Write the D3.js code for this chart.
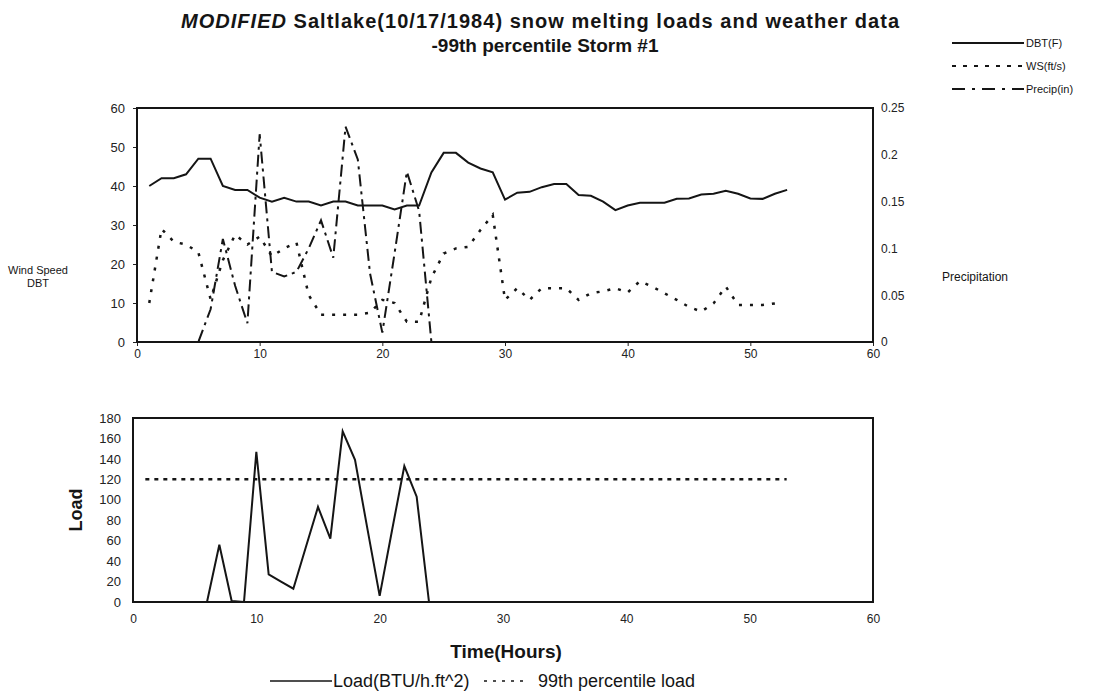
<!DOCTYPE html>
<html>
<head>
<meta charset="utf-8">
<script src="https://cdn.jsdelivr.net/npm/d3@7"></script>
<style>
  body { margin: 0; background: #fff; }
  svg { font-family: "Liberation Sans", Arial, sans-serif; }
  .axis path, .axis line { stroke: #222; }
  .axis text { fill: #222; }
</style>
</head>
<body>
<script>
const width = 1095,
      height = 698;

// hours 1..53
const hours = [1,2,3,4,5,6,7,8,9,10,11,12,13,14,15,16,17,18,19,20,21,22,23,24,25,26,27,28,29,30,
               31,32,33,34,35,36,37,38,39,40,41,42,43,44,45,46,47,48,49,50,51,52,53];

const dbt = [40,42,42,43,47,47,40,39,39,37,36,37,36,36,35,36,36,35,35,35,34,35,35,43.5,48.5,48.5,46,44.5,43.5,36.5,
             38.3,38.5,39.7,40.5,40.5,37.7,37.5,36,33.8,35,35.7,35.7,35.7,36.7,36.8,37.8,38,38.8,38,36.8,36.7,38,39];

const ws = [10,29,25.7,25,23,11,21,27.5,25,27,22,24,25.5,12,7,7,7,7,7.5,10.8,10,5.2,5.2,16.5,22.7,24,24.4,28.7,32.6,10.8,
            13.8,10.8,13.8,13.8,13.8,10.8,12.5,13,13.8,12.7,15.6,14.2,12.5,10.8,9,7.8,9.9,14.2,9.5,9.5,9.5,9.9];

const precip = [0,0,0,0,0,0.035,0.11,0.06,0.02,0.222,0.075,0.07,0.075,0.1,0.13,0.09,0.23,0.195,0.073,0.01,0.095,0.182,0.14,0,0,0,0,0,0,0,
                0,0,0,0,0,0,0,0,0,0,0,0,0,0,0,0,0,0,0,0,0,0,0];

const load = [0,0,0,0,0,0,56,1,0,147,27,20,13,53,93,62,167,139,72,6,70,133,103,0,0,0,0,0,0,0,
              0,0,0,0,0,0,0,0,0,0,0,0,0,0,0,0,0,0,0,0,0,0,0];

const load99 = [120,120,120,120,120,120,120,120,120,120,120,120,120,120,120,120,120,120,120,120,120,120,120,120,120,120,120,120,120,120,
                120,120,120,120,120,120,120,120,120,120,120,120,120,120,120,120,120,120,120,120,120,120,120];

const xTicks = [0,10,20,30,40,50,60];
const leftTicks = [0,10,20,30,40,50,60];
const rightTicks = [0,0.05,0.1,0.15,0.2,0.25];
const loadTicks = [0,20,40,60,80,100,120,140,160,180];

const ink = "#151515";

let svg = d3.select("body")
    .append("svg")
    .attr("width", width)
    .attr("height", height);

svg.append("rect").attr("width", width).attr("height", height).attr("fill", "#fff");

// titles
let title = svg.append("text")
    .attr("x", 540)
    .attr("y", 28)
    .attr("text-anchor", "middle")
    .attr("textLength", 718)
    .attr("lengthAdjust", "spacing")
    .style("font-size", "20px")
    .style("font-weight", "bold")
    .attr("fill", ink);
title.append("tspan").style("font-style", "italic").text("MODIFIED");
title.append("tspan").text("  Saltlake(10/17/1984) snow melting loads and weather data");

svg.append("text")
    .attr("x", 545)
    .attr("y", 52)
    .attr("text-anchor", "middle")
    .style("font-size", "19px")
    .style("font-weight", "bold")
    .attr("fill", ink)
    .text("-99th percentile Storm #1");

// ---- top chart
let x1 = d3.scaleLinear().domain([0, 60]).range([137, 873]);
let y1 = d3.scaleLinear().domain([0, 60]).range([342, 108]);
let yP = d3.scaleLinear().domain([0, 0.25]).range([342, 108]);

svg.append("g")
    .attr("class", "axis")
    .attr("transform", "translate(0,342)")
    .call(d3.axisBottom(x1).tickValues(xTicks).tickSize(4).tickSizeOuter(0))
    .style("font-size", "12px");

svg.append("g")
    .attr("class", "axis")
    .attr("transform", "translate(137,0)")
    .call(d3.axisLeft(y1).tickValues(leftTicks).tickSize(4).tickPadding(8).tickSizeOuter(0))
    .style("font-size", "13px");

svg.append("g")
    .attr("class", "axis")
    .attr("transform", "translate(873,0)")
    .call(d3.axisRight(yP).tickValues(rightTicks).tickSize(0).tickPadding(8)
          .tickFormat(d => d === 0 ? "0" : String(+d.toFixed(2))))
    .style("font-size", "12px");

svg.append("rect")
    .attr("x", 137).attr("y", 108)
    .attr("width", 873 - 137).attr("height", 342 - 108)
    .attr("fill", "none").attr("stroke", ink).attr("stroke-width", 2);

let lineTop = d3.line()
    .x(function (d, i) { return x1(hours[i]); })
    .y(function (d) { return y1(d); });

let lineP = d3.line()
    .x(function (d, i) { return x1(hours[i]); })
    .y(function (d) { return yP(d); });

svg.append("path")
    .attr("d", lineP(precip))
    .attr("fill", "none").attr("stroke", ink).attr("stroke-width", 2)
    .attr("stroke-dasharray", "12,5,3,5");

svg.append("path")
    .attr("d", lineTop(ws))
    .attr("fill", "none").attr("stroke", ink).attr("stroke-width", 2.5)
    .attr("stroke-dasharray", "3,8");

svg.append("path")
    .attr("d", lineTop(dbt))
    .attr("fill", "none").attr("stroke", ink).attr("stroke-width", 2);

svg.append("text")
    .attr("x", 38).attr("y", 274)
    .attr("text-anchor", "middle")
    .style("font-size", "11px").attr("fill", ink)
    .text("Wind Speed");
svg.append("text")
    .attr("x", 38).attr("y", 287)
    .attr("text-anchor", "middle")
    .style("font-size", "11px").attr("fill", ink)
    .text("DBT");
svg.append("text")
    .attr("x", 975).attr("y", 281)
    .attr("text-anchor", "middle")
    .style("font-size", "12px").attr("fill", ink)
    .text("Precipitation");

// top legend
const legendItems = [
    {name: "DBT(F)", dash: null, y: 43},
    {name: "WS(ft/s)", dash: "4,7", y: 66},
    {name: "Precip(in)", dash: "13,7,3,7", y: 89}
];
legendItems.forEach(function (l) {
    svg.append("line")
        .attr("x1", 952).attr("x2", 1024)
        .attr("y1", l.y).attr("y2", l.y)
        .attr("stroke", ink).attr("stroke-width", 2)
        .attr("stroke-dasharray", l.dash);
    svg.append("text")
        .attr("x", 1026).attr("y", l.y + 4)
        .style("font-size", "11px").attr("fill", ink)
        .text(l.name);
});

// ---- bottom chart
let x2 = d3.scaleLinear().domain([0, 60]).range([133, 873]);
let y2 = d3.scaleLinear().domain([0, 180]).range([602, 418]);

svg.append("g")
    .attr("class", "axis")
    .attr("transform", "translate(0,602)")
    .call(d3.axisBottom(x2).tickValues(xTicks).tickSize(0).tickPadding(12))
    .style("font-size", "12px");

svg.append("g")
    .attr("class", "axis")
    .attr("transform", "translate(133,0)")
    .call(d3.axisLeft(y2).tickValues(loadTicks).tickSize(0).tickPadding(12))
    .style("font-size", "13px");

svg.append("rect")
    .attr("x", 133).attr("y", 418)
    .attr("width", 873 - 133).attr("height", 602 - 418)
    .attr("fill", "none").attr("stroke", ink).attr("stroke-width", 2);

let lineBot = d3.line()
    .x(function (d, i) { return x2(hours[i]); })
    .y(function (d) { return y2(d); });

svg.append("path")
    .attr("d", lineBot(load99))
    .attr("fill", "none").attr("stroke", ink).attr("stroke-width", 2.5)
    .attr("stroke-dasharray", "4,5");

svg.append("path")
    .attr("d", lineBot(load))
    .attr("fill", "none").attr("stroke", ink).attr("stroke-width", 2);

svg.append("text")
    .attr("text-anchor", "middle")
    .attr("transform", "translate(82,510)rotate(-90)")
    .style("font-size", "18px").style("font-weight", "bold").attr("fill", ink)
    .text("Load");

svg.append("text")
    .attr("x", 506).attr("y", 658)
    .attr("text-anchor", "middle")
    .style("font-size", "19px").style("font-weight", "bold").attr("fill", ink)
    .text("Time(Hours)");

// bottom legend
svg.append("line")
    .attr("x1", 270).attr("x2", 332).attr("y1", 681).attr("y2", 681)
    .attr("stroke", ink).attr("stroke-width", 1.5);
svg.append("text")
    .attr("x", 333).attr("y", 687)
    .style("font-size", "18px").attr("fill", ink)
    .text("Load(BTU/h.ft^2)");
svg.append("line")
    .attr("x1", 484).attr("x2", 528).attr("y1", 681).attr("y2", 681)
    .attr("stroke", ink).attr("stroke-width", 1.5)
    .attr("stroke-dasharray", "3,6");
svg.append("text")
    .attr("x", 538).attr("y", 687)
    .style("font-size", "18px").attr("fill", ink)
    .text("99th percentile load");
</script>
</body>
</html>
